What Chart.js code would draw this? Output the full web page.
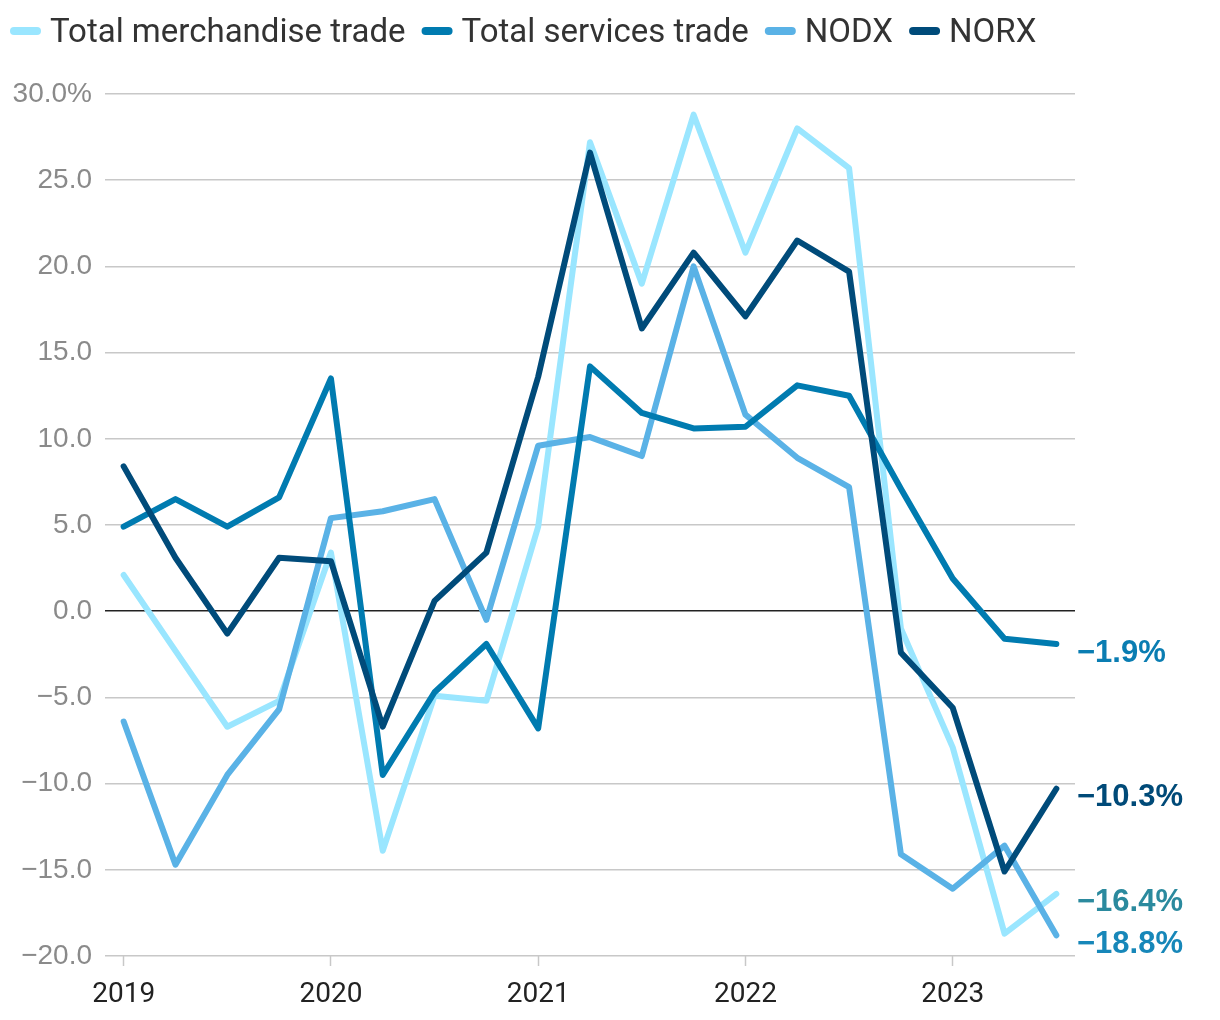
<!DOCTYPE html>
<html>
<head>
<meta charset="utf-8">
<script src="https://cdn.jsdelivr.net/npm/chart.js@4.4.1/dist/chart.umd.min.js"></script>
<style>
  html, body { margin: 0; padding: 0; background: #ffffff; }
  #wrap { position: relative; width: 1220px; height: 1020px; }
</style>
</head>
<body>
<div id="wrap"><canvas id="c" width="1220" height="1020"></canvas></div>
<script>
// ---- Data (quarterly, y/y % change) ----
const quarters = ['2019 Q1','2019 Q2','2019 Q3','2019 Q4','2020 Q1','2020 Q2','2020 Q3','2020 Q4',
                  '2021 Q1','2021 Q2','2021 Q3','2021 Q4','2022 Q1','2022 Q2','2022 Q3','2022 Q4',
                  '2023 Q1','2023 Q2','2023 Q3'];
const seriesNames = ['Total merchandise trade', 'Total services trade', 'NODX', 'NORX'];
const merchandise = [2.1, -2.3, -6.7, -5.2, 3.4, -13.9, -4.9, -5.2, 4.9, 27.2, 19.0, 28.8, 20.8, 28.0, 25.7, -1.0, -7.9, -18.7, -16.4];
const services    = [4.9, 6.5, 4.9, 6.6, 13.5, -9.5, -4.7, -1.9, -6.8, 14.2, 11.5, 10.6, 10.7, 13.1, 12.5, 7.1, 1.9, -1.6, -1.9];
const nodx        = [-6.4, -14.7, -9.5, -5.7, 5.4, 5.8, 6.5, -0.5, 9.6, 10.1, 9.0, 20.0, 11.4, 8.9, 7.2, -14.1, -16.1, -13.6, -18.8];
const norx        = [8.4, 3.1, -1.3, 3.1, 2.9, -6.7, 0.6, 3.4, 13.6, 26.6, 16.4, 20.8, 17.1, 21.5, 19.7, -2.4, -5.6, -15.1, -10.3];
const yTicks = [-20, -15, -10, -5, 0, 5, 10, 15, 20, 25, 30];
const endLabels = ['−16.4%', '−1.9%', '−18.8%', '−10.3%'];

const lineColors  = ['#9ae6ff', '#007bb0', '#5ab2e6', '#004b7a'];
const labelColors = ['#2b8a9e', '#0a7db2', '#1787b9', '#004a78'];
const drawOrder   = [4, 2, 3, 1];

const allSeries = [merchandise, services, nodx, norx];
const toPoints = arr => arr.map((v, i) => ({ x: i, y: v }));

const datasets = allSeries.map((arr, k) => ({
  label: seriesNames[k],
  data: toPoints(arr),
  borderColor: lineColors[k],
  backgroundColor: lineColors[k],
  borderWidth: 6,
  pointRadius: 0,
  pointHoverRadius: 0,
  tension: 0,
  borderCapStyle: 'round',
  borderJoinStyle: 'round',
  order: drawOrder[k],
  fill: false
}));

const fmtMinus = s => s.replace('-', '−');

const endLabelPlugin = {
  id: 'endLabels',
  afterDatasetsDraw(chart) {
    const { ctx, chartArea, scales } = chart;
    ctx.save();
    ctx.font = 'bold 31px "Liberation Sans", Arial, sans-serif';
    ctx.textAlign = 'left';
    ctx.textBaseline = 'middle';
    allSeries.forEach((arr, k) => {
      const v = arr[arr.length - 1];
      const y = scales.y.getPixelForValue(v) + 9;
      ctx.fillStyle = labelColors[k];
      ctx.fillText(endLabels[k], chartArea.right + 2, y);
    });
    ctx.restore();
  }
};

// Custom top legend (short rounded line markers)
const legendPlugin = {
  id: 'topLegend',
  afterDraw(chart) {
    const { ctx } = chart;
    ctx.save();
    ctx.font = '33px Roboto, sans-serif';
    ctx.textBaseline = 'middle';
    ctx.textAlign = 'left';
    let x = 10;
    const yMid = 31;
    chart.data.datasets.forEach((ds) => {
      ctx.fillStyle = ds.borderColor;
      ctx.beginPath();
      ctx.roundRect(x, yMid - 4, 31, 8, 4);
      ctx.fill();
      x += 31 + 9;
      ctx.fillStyle = '#333333';
      ctx.fillText(ds.label, x, yMid + 3);
      x += ctx.measureText(ds.label).width + 16;
    });
    ctx.restore();
  }
};

new Chart(document.getElementById('c'), {
  type: 'line',
  data: { datasets },
  plugins: [endLabelPlugin, legendPlugin],
  options: {
    responsive: false,
    animation: false,
    events: [],
    layout: { padding: { top: 94, right: 145, bottom: 0, left: 0 } },
    plugins: {
      tooltip: { enabled: false },
      legend: { display: false }
    },
    scales: {
      x: {
        type: 'linear',
        min: -0.36,
        max: 18.36,
        afterBuildTicks(scale) {
          scale.ticks = quarters
            .map((q, i) => ({ q, i }))
            .filter(o => o.q.endsWith('Q1'))
            .map(o => ({ value: o.i }));
        },
        afterFit(scale) { scale.height = 64; },
        ticks: {
          autoSkip: false,
          maxRotation: 0,
          padding: 12,
          color: '#222222',
          font: { family: 'Roboto', size: 28 },
          callback: (v) => quarters[v] ? quarters[v].slice(0, 4) : ''
        },
        grid: {
          drawOnChartArea: false,
          drawTicks: true,
          tickLength: 10,
          tickColor: '#c8c8c8',
          tickWidth: 1.5
        },
        border: { display: false }
      },
      y: {
        min: -20,
        max: 30,
        afterBuildTicks(scale) {
          scale.ticks = yTicks.map(v => ({ value: v }));
        },
        afterFit(scale) { scale.width = 105; },
        ticks: {
          padding: 13,
          color: '#8a8a8a',
          font: { family: '"Liberation Sans"', size: 28 },
          callback: (v) => {
            const s = fmtMinus(Number(v).toFixed(1));
            return v === 30 ? s + '%' : s;
          }
        },
        grid: {
          drawTicks: false,
          color: (c) => (c.tick && c.tick.value === 0) ? '#222222' : '#c8c8c8',
          lineWidth: 1.5
        },
        border: { display: false }
      }
    }
  }
});
</script>
</body>
</html>
